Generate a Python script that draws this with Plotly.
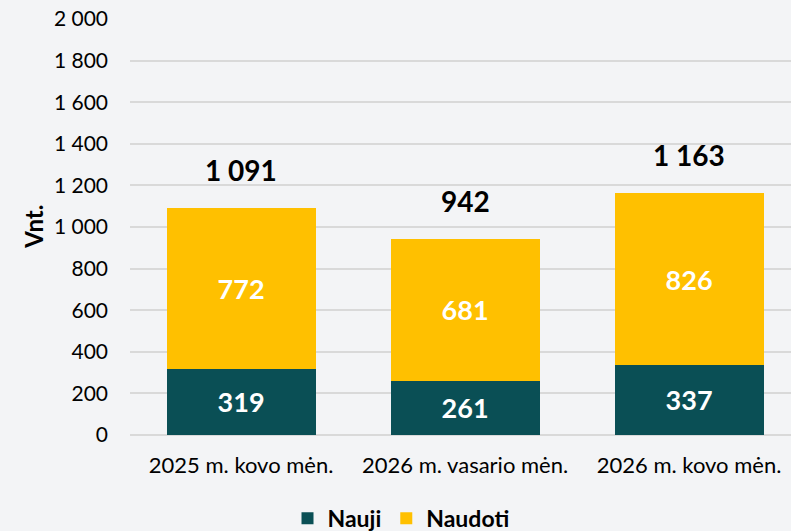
import plotly.graph_objects as go

categories = ["2025 m. kovo mėn.", "2026 m. vasario mėn.", "2026 m. kovo mėn."]
nauji = [319, 261, 337]
naudoti = [772, 681, 826]
series_names = ["Nauji", "Naudoti"]
y_ticks = [0, 200, 400, 600, 800, 1000, 1200, 1400, 1600, 1800, 2000]

TEAL = "#0a4f55"
GOLD = "#ffc000"
BG = "#f3f4f6"
FONT = "Lato"

totals = [a + b for a, b in zip(nauji, naudoti)]

fig = go.Figure()
for name, vals, col in [(series_names[0], nauji, TEAL), (series_names[1], naudoti, GOLD)]:
    fig.add_trace(go.Bar(
        x=categories, y=vals, name=name, marker_color=col,
        marker_line_width=0, width=0.665,
        text=vals, texttemplate="%{y:,}", textposition="inside",
        insidetextanchor="middle",
        textfont=dict(family=FONT, size=27, color="white", weight="bold"),
    ))

for c, t in zip(categories, totals):
    fig.add_annotation(x=c, y=t, text=f"<b>{t:,}</b>".replace(",", " "),
                       showarrow=False, yshift=38, yanchor="middle",
                       font=dict(family=FONT, size=28, color="black"))

fig.add_annotation(x=-0.147, y=0.5, xref="paper", yref="paper", text="<b>Vnt.</b>",
                   textangle=-90, showarrow=False, xanchor="center", yanchor="middle",
                   font=dict(family=FONT, size=24, color="black"))

fig.update_layout(
    barmode="stack",
    width=791, height=531,
    margin=dict(l=130, r=0, t=19, b=96, autoexpand=False),
    paper_bgcolor=BG, plot_bgcolor=BG,
    separators=". ",
    font=dict(family=FONT, size=21, color="black"),
    showlegend=True,
    legend=dict(orientation="h", traceorder="normal", x=0.41, xanchor="center",
                y=-0.2, yanchor="middle",
                font=dict(family=FONT, size=23, color="black", weight="bold"),
                bgcolor="rgba(0,0,0,0)", itemclick=False),
    xaxis=dict(range=[-0.496, 2.455], showgrid=False, showline=False, ticks="",
               ticklabelstandoff=15, tickfont=dict(family=FONT, size=22)),
    yaxis=dict(range=[0, 2000], tickvals=y_ticks, tickformat=",", showgrid=True,
               gridcolor="#d9d9d9", gridwidth=1.5, zeroline=True, zerolinecolor="#d9d9d9",
               zerolinewidth=1.5, ticks="", ticklabelstandoff=21,
               tickfont=dict(family=FONT, size=21)),
)

fig.write_html("out.html", config={"displayModeBar": False},
               post_script="document.body.style.margin='0';document.body.style.overflow='hidden';")
